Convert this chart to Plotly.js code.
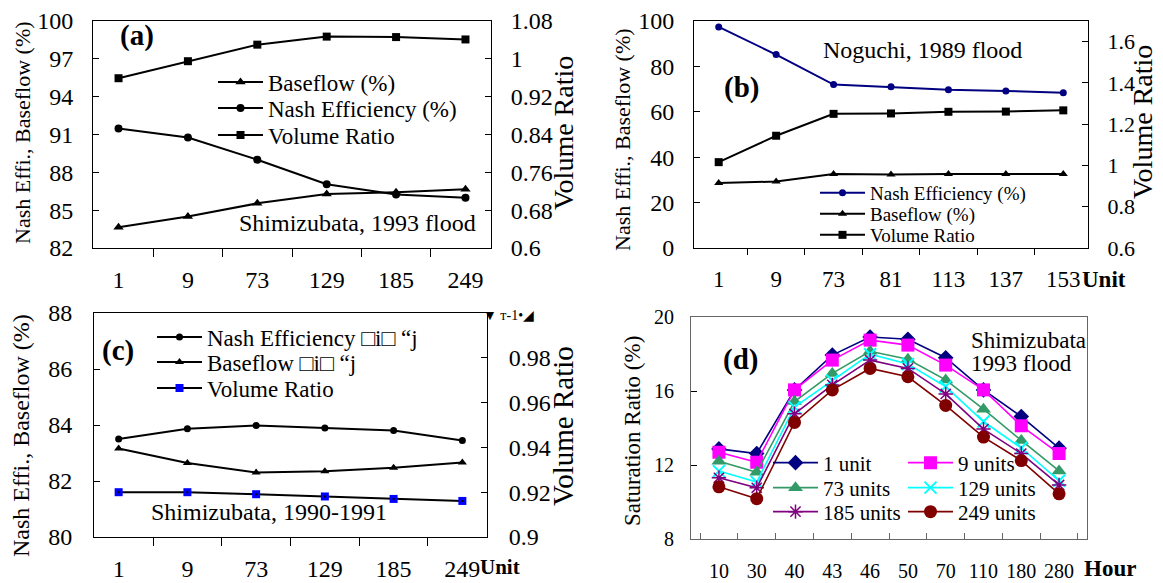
<!DOCTYPE html>
<html>
<head>
<meta charset="utf-8">
<script src="https://cdn.plot.ly/plotly-3.0.1.min.js"></script>
<style>html,body{margin:0;padding:0;background:#fff;}#chart{width:1163px;height:583px;}</style>
</head>
<body>
<div id="chart"></div>
<script>
// ---------- DATA ----------
// Panel (a) Shimizubata, 1993 flood
const unitsA = ['1', '9', '73', '129', '185', '249'];
const baseflowA = [83.65, 84.49, 85.54, 86.28, 86.42, 86.65];
const nashA = [91.47, 90.76, 89.0, 87.06, 86.25, 85.98];
const volumeA = [0.959, 0.995, 1.030, 1.047, 1.046, 1.041];

// Panel (b) Noguchi, 1989 flood
const unitsB = ['1', '9', '73', '81', '113', '137', '153'];
const nashB = [97.4, 85.2, 72.0, 71.0, 69.7, 69.2, 68.4];
const baseflowB = [28.6, 29.3, 32.6, 32.4, 32.6, 32.6, 32.6];
const volumeB = [1.016, 1.144, 1.250, 1.252, 1.260, 1.261, 1.267];

// Panel (c) Shimizubata, 1990-1991
const unitsC = ['1', '9', '73', '129', '185', '249'];
const nashC = [83.50, 83.87, 83.98, 83.89, 83.80, 83.45];
const baseflowC = [83.16, 82.64, 82.30, 82.35, 82.47, 82.66];
const volumeC = [0.9200, 0.9200, 0.9191, 0.9181, 0.9170, 0.9161];

// Panel (d) Saturation ratio, Shimizubata 1993 flood
const hoursD = ['10', '30', '40', '43', '46', '50', '70', '110', '180', '280'];
const sat1 = [12.87, 12.62, 16.06, 17.94, 18.92, 18.80, 17.80, 16.06, 14.62, 12.91];
const sat9 = [12.69, 12.15, 16.06, 17.67, 18.75, 18.48, 17.40, 16.06, 14.12, 12.62];
const sat73 = [12.20, 11.61, 15.43, 16.95, 18.15, 17.72, 16.60, 15.02, 13.33, 11.68];
const sat129 = [11.67, 11.08, 15.13, 16.56, 17.99, 17.46, 16.24, 14.35, 12.92, 11.15];
const sat185 = [11.31, 10.77, 14.77, 16.33, 17.67, 17.22, 15.84, 13.94, 12.62, 10.92];
const sat249 = [10.82, 10.18, 14.30, 16.06, 17.22, 16.77, 15.22, 13.51, 12.24, 10.44];

// Tick values / labels
const tickA = [82, 85, 88, 91, 94, 97, 100];
const tickA2 = [0.6, 0.68, 0.76, 0.84, 0.92, 1.0, 1.08];
const tickA2Text = ['0.6', '0.68', '0.76', '0.84', '0.92', '1', '1.08'];
const tickB = [0, 20, 40, 60, 80, 100];
const tickB2 = [0.6, 0.8, 1.0, 1.2, 1.4, 1.6];
const tickB2Text = ['0.6', '0.8', '1', '1.2', '1.4', '1.6'];
const tickC = [80, 82, 84, 86, 88];
const tickC2 = [0.9, 0.92, 0.94, 0.96, 0.98];
const tickC2Text = ['0.9', '0.92', '0.94', '0.96', '0.98'];
const tickD = [8, 12, 16, 20];

// ---------- LAYOUT HELPERS ----------
const W = 1163, H = 583;
const FONT = 'Liberation Serif';
const px = v => v / W;
const py = v => 1 - v / H;
const box = {
  a: {l: 93, r: 491, t: 21, b: 248},
  b: {l: 694, r: 1088, t: 21, b: 248},
  c: {l: 94, r: 487, t: 313, b: 537},
  d: {l: 691, r: 1087, t: 317, b: 539}
};
const xd = k => [px(box[k].l), px(box[k].r)];
const yd = k => [py(box[k].b), py(box[k].t)];
const tf = s => ({family: FONT, size: s, color: '#000'});

function xAxis(k, anchor, ticks, len, fs, standoff, color) {
  return {domain: xd(k), anchor: anchor, type: 'category', showline: true, linecolor: color || '#000', linewidth: 1,
    mirror: true, showgrid: false, zeroline: false, ticks: ticks, ticklen: len, tickcolor: color || '#000',
    tickson: 'boundaries', tickangle: 0, tickfont: tf(fs), ticklabelstandoff: standoff, fixedrange: true};
}
function yAxis(k, anchor, range, vals, text, fs, standoff, extra) {
  return Object.assign({domain: yd(k), anchor: anchor, range: range, tickmode: 'array', tickvals: vals,
    ticktext: text || vals.map(String), showline: true, linecolor: '#000', linewidth: 1, showgrid: false,
    zeroline: false, ticks: 'inside', ticklen: 6, tickcolor: '#000', tickfont: tf(fs), ticklabelstandoff: standoff,
    fixedrange: true}, extra || {});
}

// ---------- TRACES ----------
const traces = [];
function add(x, y, xa, ya, name, color, symbol, size, lw, legend, extra) {
  traces.push(Object.assign({
    type: 'scatter', mode: 'lines+markers', x: x, y: y, xaxis: xa, yaxis: ya, name: name,
    line: {color: color, width: lw}, marker: {symbol: symbol, size: size, color: color, line: {width: 0, color: color}},
    legend: legend, cliponaxis: false, hoverinfo: 'skip'
  }, extra || {}));
}
// (a)
add(unitsA, baseflowA, 'x', 'y', 'Baseflow (%)', '#000', 'triangle-up', 9, 2, 'legend');
add(unitsA, nashA, 'x', 'y', 'Nash Efficiency (%)', '#000', 'circle', 8, 2, 'legend2');
add(unitsA, volumeA, 'x', 'y2', 'Volume Ratio', '#000', 'square', 8, 2, 'legend3');
// (b)
add(unitsB, nashB, 'x2', 'y3', 'Nash Efficiency (%)', '#000080', 'circle', 7, 2, 'legend4');
add(unitsB, baseflowB, 'x2', 'y3', 'Baseflow (%)', '#000', 'triangle-up', 8, 2, 'legend5');
add(unitsB, volumeB, 'x2', 'y4', 'Volume Ratio', '#000', 'square', 8, 2, 'legend6');
// (c)
add(unitsC, nashC, 'x3', 'y5', 'Nash Efficiency \u25a1i\u25a1 \u201cj', '#000', 'circle', 7, 2, 'legend7');
add(unitsC, baseflowC, 'x3', 'y5', 'Baseflow \u25a1i\u25a1 \u201cj', '#000', 'triangle-up', 8, 2, 'legend8');
add(unitsC, volumeC, 'x3', 'y6', 'Volume Ratio', '#000', 'square', 8, 2, 'legend9',
  {marker: {symbol: 'square', size: 8, color: '#0000ff', line: {width: 0}}});
traces.push({type: 'scatter', mode: 'markers', x: unitsC, y: volumeC, xaxis: 'x3', yaxis: 'y6', showlegend: false,
  marker: {symbol: 'square', size: 2, color: '#000'}, cliponaxis: false, hoverinfo: 'skip'});
// (d)
add(hoursD, sat1, 'x4', 'y7', '1 unit', '#000080', 'diamond', 12, 1.6, 'legend10');
add(hoursD, sat9, 'x4', 'y7', '9 units', '#ff00ff', 'square', 13, 1.6, 'legend11');
add(hoursD, sat73, 'x4', 'y7', '73 units', '#339966', 'triangle-up', 13, 1.6, 'legend12');
add(hoursD, sat129, 'x4', 'y7', '129 units', '#00ffff', 'x-thin-open', 12, 1.6, 'legend13',
  {marker: {symbol: 'x-thin-open', size: 12, color: '#00ffff', line: {width: 2, color: '#00ffff'}}});
add(hoursD, sat185, 'x4', 'y7', '185 units', '#800080', 'asterisk-open', 12, 1.6, 'legend14',
  {marker: {symbol: 'asterisk-open', size: 12, color: '#800080', line: {width: 1.5, color: '#800080'}}});
add(hoursD, sat249, 'x4', 'y7', '249 units', '#800000', 'circle', 13, 1.6, 'legend15');

// ---------- LEGENDS (one entry each, positioned) ----------
const legendPos = {
  legend: [218, 82, 23], legend2: [218, 108, 23], legend3: [218, 135, 23],
  legend4: [820, 193, 19], legend5: [820, 214, 19], legend6: [820, 235, 19],
  legend7: [157, 337, 23], legend8: [157, 362, 23], legend9: [157, 388, 23],
  legend10: [773, 463, 21], legend11: [908, 463, 21], legend12: [773, 488, 21],
  legend13: [908, 488, 21], legend14: [773, 512, 21], legend15: [908, 512, 21]
};

const layout = {
  width: W, height: H, autosize: false, margin: {l: 0, r: 0, t: 0, b: 0},
  paper_bgcolor: '#fff', plot_bgcolor: 'rgba(0,0,0,0)', font: tf(20),
  xaxis: xAxis('a', 'y', 'outside', 8, 24, 10),
  yaxis: yAxis('a', 'x', [82, 100], tickA, null, 24, 14),
  yaxis2: yAxis('a', 'x', [0.6, 1.08], tickA2, tickA2Text, 24, 14, {overlaying: 'y', side: 'right'}),
  xaxis2: xAxis('b', 'y3', 'outside', 6, 23, 10),
  yaxis3: yAxis('b', 'x2', [0, 100], tickB, null, 24, 14),
  yaxis4: yAxis('b', 'x2', [0.6, 1.7], tickB2, tickB2Text, 22, 14, {overlaying: 'y3', side: 'right'}),
  xaxis3: xAxis('c', 'y5', 'outside', 8, 24, 10),
  yaxis5: yAxis('c', 'x3', [80, 88], tickC, null, 24, 16),
  yaxis6: yAxis('c', 'x3', [0.9, 1.0], tickC2, tickC2Text, 24, 16, {overlaying: 'y5', side: 'right'}),
  xaxis4: xAxis('d', 'y7', 'inside', 6, 20, 14, '#666'),
  yaxis7: yAxis('d', 'x4', [8, 20], tickD, null, 20, 12, {mirror: true, linecolor: '#666'}),
  annotations: [],
  showlegend: true
};
for (const [k, v] of Object.entries(legendPos)) {
  layout[k] = {x: px(v[0] - 5), y: py(v[1]), xanchor: 'left', yanchor: 'middle', bgcolor: 'rgba(0,0,0,0)',
    borderwidth: 0, font: tf(v[2]), itemwidth: 45, itemclick: false, itemdoubleclick: false, tracegroupgap: 0};
}

function ann(text, x, y, size, opts) {
  layout.annotations.push(Object.assign({text: text, x: px(x), y: py(y), xref: 'paper', yref: 'paper',
    showarrow: false, xanchor: 'center', yanchor: 'middle', font: tf(size)}, opts || {}));
}
// panel labels
ann('<b>(a)</b>', 137, 35, 29);
ann('<b>(b)</b>', 741, 88, 29);
ann('<b>(c)</b>', 118, 351, 29);
ann('<b>(d)</b>', 740, 359, 29);
// captions
ann('Shimizubata, 1993 flood', 357, 223, 24);
ann('Noguchi, 1989 flood', 922, 50, 24);
ann('Shimizubata, 1990-1991', 269, 512, 24);
ann('Shimizubata', 969, 340, 23, {xanchor: 'left'});
ann('1993 flood', 969, 363, 23, {xanchor: 'left'});
// axis titles
ann('Nash Effi., Baseflow (%)', 22, 133, 22, {textangle: -90});
ann('Nash Effi., Baseflow (%)', 623, 140, 22, {textangle: -90});
ann('Nash Effi., Baseflow (%)', 21, 436, 24, {textangle: -90});
ann('Saturation Ratio (%)', 632, 431, 23, {textangle: -90});
ann('Volume Ratio', 563, 133, 28, {textangle: -90});
ann('Volume Ratio', 1143, 122, 28, {textangle: -90});
ann('Volume Ratio', 563, 426, 29, {textangle: -90});
ann('<b>Unit</b>', 1104, 280, 23);
ann('<b>Unit</b>', 500, 567, 21, {borderpad: 0});
ann('<b>Hour</b>', 1110, 568, 23, {borderpad: 0});
// garbled top tick label of (c) right axis
ann('\u25bc \u1d1b-1\u2022\u25e2', 481, 315, 14, {xanchor: 'left'});

Plotly.newPlot('chart', traces, layout, {staticPlot: true, displayModeBar: false});
</script>
</body>
</html>
